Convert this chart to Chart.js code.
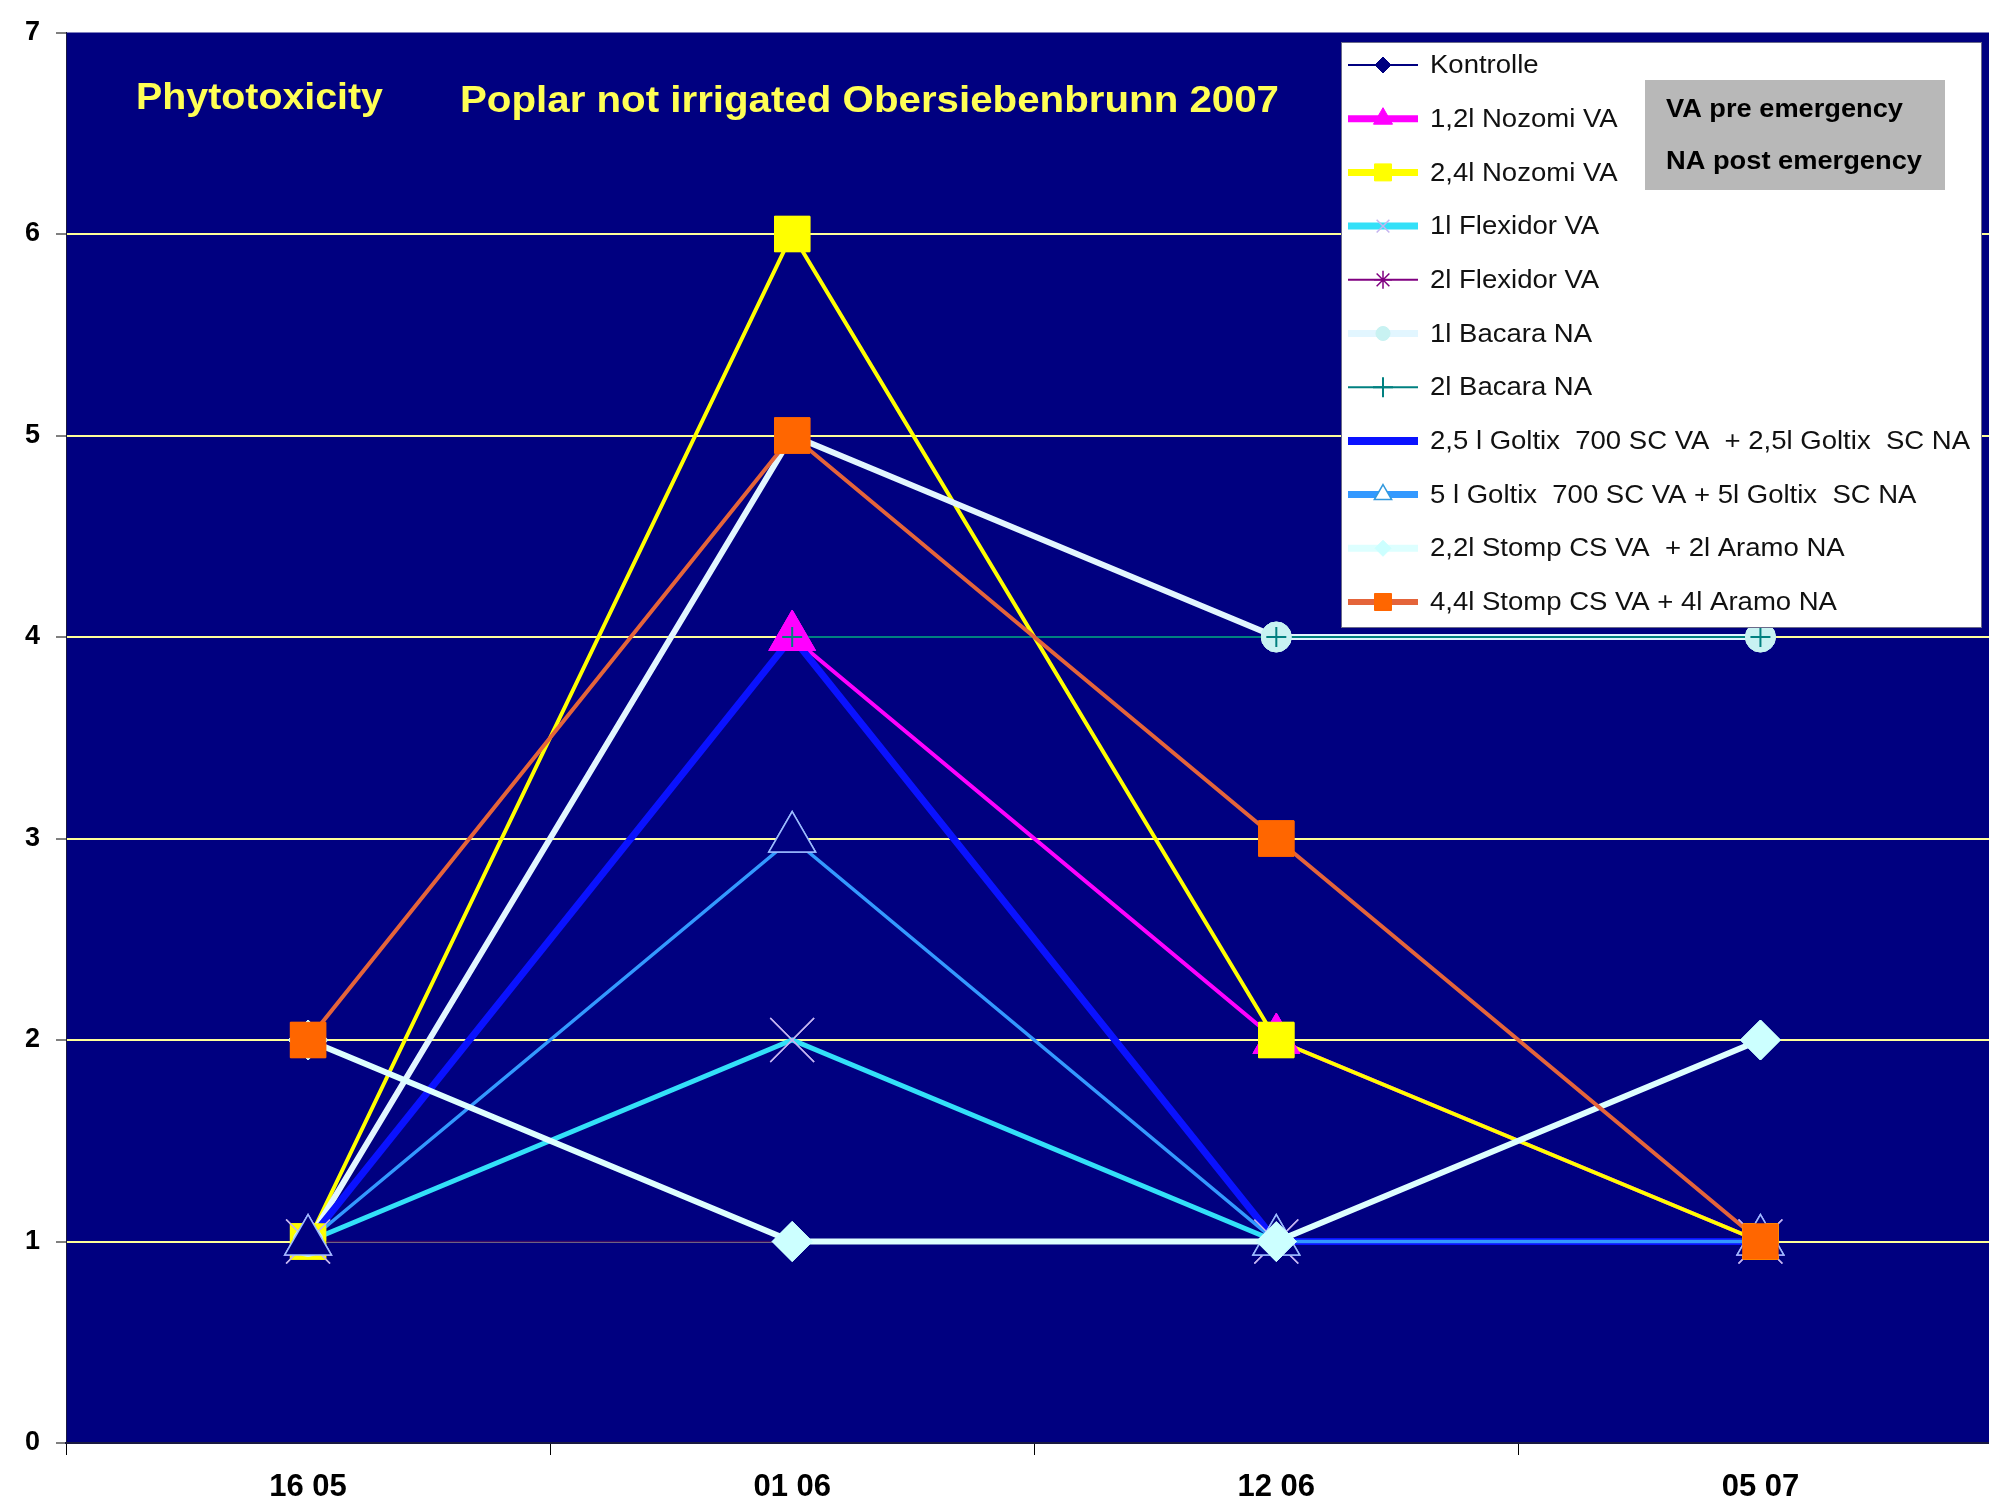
<!DOCTYPE html>
<html>
<head>
<meta charset="utf-8">
<script src="https://cdn.jsdelivr.net/npm/chart.js@4/dist/chart.umd.min.js"></script>
<style>
  html, body { margin: 0; padding: 0; background: #ffffff; overflow: hidden; }
  #wrap { position: absolute; left: 0; top: 0; width: 2200px; height: 1510px; }
  canvas { display: block; }
</style>
</head>
<body>
<div id="wrap">
<canvas id="phyto" width="2010" height="1510" style="width:2010px;height:1510px"></canvas>
</div>
<script>
// Sampling dates (day month)
const categories = ['16 05', '01 06', '12 06', '05 07'];

// Phytotoxicity scores per treatment
const kontrolle = [1, 1, 1, 1];
const nozomi12 = [1, 4, 2, 1];
const nozomi24 = [1, 6, 2, 1];
const flexidor1 = [1, 2, 1, 1];
const flexidor2 = [1, 1, 1, 1];
const bacara1 = [1, 5, 4, 4];
const bacara2 = [1, 4, 4, 4];
const goltix25 = [1, 4, 1, 1];
const goltix5 = [1, 3, 1, 1];
const stomp22 = [2, 1, 1, 2];
const stomp44 = [2, 5, 3, 1];

// Value axis ticks
const yTicks = [0, 1, 2, 3, 4, 5, 6, 7];

const seriesLabels = [
  'Kontrolle',
  '1,2l Nozomi VA',
  '2,4l Nozomi VA',
  '1l Flexidor VA',
  '2l Flexidor VA',
  '1l Bacara NA',
  '2l Bacara NA',
  '2,5 l Goltix  700 SC VA  + 2,5l Goltix  SC NA',
  '5 l Goltix  700 SC VA + 5l Goltix  SC NA',
  '2,2l Stomp CS VA  + 2l Aramo NA',
  '4,4l Stomp CS VA + 4l Aramo NA'
];

const titleLeft = 'Phytotoxicity';
const titleMain = 'Poplar not irrigated Obersiebenbrunn 2007';
const noteLines = ['VA pre emergency', 'NA post emergency'];

const NARROW = "'Liberation Sans Narrow', 'Liberation Sans', Arial, sans-serif";
const SANS = "'Liberation Sans', Arial, sans-serif";

// plot frame
const PLOT_LEFT = 66;
const PLOT_RIGHT = 2002;
const PLOT_TOP = 32;
const PLOT_BOTTOM = 1443;

function ds(label, data, s) {
  return Object.assign({
    label: label,
    data: data,
    tension: 0,
    fill: false,
    pointHoverRadius: s.pointRadius
  }, s);
}

function makeDatasets() {
  const list = [
    ds(seriesLabels[0], kontrolle, { borderColor: '#000080', borderWidth: 2, pointStyle: 'rectRot', pointRadius: 10,
      pointBackgroundColor: '#000080', pointBorderColor: '#000080', legendLine: 2, legendRadius: 8 }),
    ds(seriesLabels[1], nozomi12, { borderColor: '#ff00ff', borderWidth: 4, pointStyle: 'triangle', pointRadius: 27,
      pointBackgroundColor: '#ff00ff', pointBorderColor: '#ff00ff', pointBorderWidth: 1, legendLine: 7, legendRadius: 11 }),
    ds(seriesLabels[2], nozomi24, { borderColor: '#ffff00', borderWidth: 4, pointStyle: 'rect', pointRadius: 25,
      pointBackgroundColor: '#ffff00', pointBorderColor: '#ffff00', pointBorderWidth: 1, legendLine: 7, legendRadius: 12 }),
    ds(seriesLabels[3], flexidor1, { borderColor: '#33e0f8', borderWidth: 5, pointStyle: 'crossRot', pointRadius: 31,
      pointBackgroundColor: '#c4b4f0', pointBorderColor: '#c4b4f0', pointBorderWidth: 1.5, legendLine: 7, legendRadius: 9 }),
    ds(seriesLabels[4], flexidor2, { borderColor: '#3a0a66', borderWidth: 1.5, pointStyle: 'star', pointRadius: 12,
      pointBackgroundColor: '#6a1a80', pointBorderColor: '#6a1a80', pointBorderWidth: 1.5,
      legendLine: 2, legendRadius: 9, legendStroke: '#800080', legendColor: '#800080' }),
    ds(seriesLabels[5], bacara1, { borderColor: '#e2f6ff', borderWidth: 6, pointStyle: 'circle', pointRadius: 15,
      pointBackgroundColor: '#c8f2f2', pointBorderColor: '#c8f2f2', pointBorderWidth: 1, legendLine: 7, legendRadius: 7 }),
    ds(seriesLabels[6], bacara2, { borderColor: '#008080', borderWidth: 2, pointStyle: 'cross', pointRadius: 10,
      pointBackgroundColor: '#008080', pointBorderColor: '#008080', pointBorderWidth: 2, legendLine: 2, legendRadius: 10 }),
    ds(seriesLabels[7], goltix25, { borderColor: '#0a12ff', borderWidth: 7, pointStyle: 'circle', pointRadius: 0,
      pointBackgroundColor: '#0a12ff', pointBorderColor: '#0a12ff', legendLine: 8, legendRadius: 0 }),
    ds(seriesLabels[8], goltix5, { borderColor: '#3399ff', borderWidth: 3.5, pointStyle: 'triangle', pointRadius: 27,
      pointBackgroundColor: '#000080', pointBorderColor: '#9cbcff', pointBorderWidth: 1.5,
      legendLine: 7, legendRadius: 10, legendFill: '#ffffff', legendStroke: '#3399dd' }),
    ds(seriesLabels[9], stomp22, { borderColor: '#ddffff', borderWidth: 6, pointStyle: 'rectRot', pointRadius: 20,
      pointBackgroundColor: '#ccffff', pointBorderColor: '#ccffff', pointBorderWidth: 1, legendLine: 7, legendRadius: 8 }),
    ds(seriesLabels[10], stomp44, { borderColor: '#e4643a', borderWidth: 4, pointStyle: 'rect', pointRadius: 25,
      pointBackgroundColor: '#ff6600', pointBorderColor: '#ff6600', pointBorderWidth: 1, legendLine: 6, legendRadius: 12 })
  ];
  // later treatments are layered above earlier ones
  list.forEach((d, i) => { d.order = list.length - i; });
  return list;
}

function fitText(ctx, text, x, yMid, width, font, color) {
  ctx.save();
  ctx.font = font;
  const w = ctx.measureText(text).width;
  ctx.translate(x, yMid);
  ctx.scale(width / w, 1);
  ctx.textAlign = 'left';
  ctx.textBaseline = 'middle';
  ctx.fillStyle = color;
  ctx.fillText(text, 0, 0);
  ctx.restore();
}

function marker(ctx, style, r, x, y, fill, stroke, bw) {
  if (r <= 0) return;
  ctx.save();
  ctx.fillStyle = fill;
  ctx.strokeStyle = stroke;
  ctx.lineWidth = bw;
  if (Chart.helpers && Chart.helpers.drawPoint) {
    Chart.helpers.drawPoint(ctx, { pointStyle: style, radius: r, rotation: 0, borderWidth: bw }, x, y);
  }
  ctx.restore();
}

const plotBackground = {
  id: 'plotBackground',
  beforeDraw(chart) {
    const { ctx, chartArea: a } = chart;
    ctx.save();
    ctx.fillStyle = '#ffffff';
    ctx.fillRect(0, 0, chart.width, chart.height);
    ctx.fillStyle = '#000080';
    ctx.fillRect(a.left, a.top, a.right - a.left, a.bottom - a.top);
    ctx.restore();
  }
};

// markers sit above every line, in series order
const markersOnTop = {
  id: 'markersOnTop',
  afterDatasetsDraw(chart) {
    const ctx = chart.ctx;
    ctx.save();
    for (let i = 0; i < chart.data.datasets.length; i++) {
      const meta = chart.getDatasetMeta(i);
      meta.data.forEach(p => p.draw(ctx, chart.chartArea));
    }
    ctx.restore();
  }
};

const annotations = {
  id: 'annotations',
  afterDraw(chart) {
    const ctx = chart.ctx;
    // headings inside the plot
    fitText(ctx, titleLeft, 136, 99, 247, 'bold 37px ' + NARROW, '#ffff55');
    fitText(ctx, titleMain, 460, 102, 819, 'bold 37px ' + NARROW, '#ffff55');

    // legend box
    const L = { left: 1341, top: 42, right: 1982, bottom: 628 };
    ctx.save();
    ctx.fillStyle = '#ffffff';
    ctx.fillRect(L.left, L.top, L.right - L.left, L.bottom - L.top);
    ctx.strokeStyle = '#6a6a8a';
    ctx.lineWidth = 1;
    ctx.strokeRect(L.left + 0.5, L.top + 0.5, L.right - L.left - 1, L.bottom - L.top - 1);
    ctx.restore();

    const legendFont = '26px ' + SANS;
    ctx.font = legendFont;
    const longest = chart.data.datasets.reduce((m, d) => Math.max(m, ctx.measureText(d.label).width), 0);
    const sx = 540 / longest;
    chart.data.datasets.forEach((d, i) => {
      const y = 65 + i * 53.7;
      ctx.save();
      ctx.strokeStyle = d.legendColor || d.borderColor;
      ctx.lineWidth = d.legendLine;
      ctx.lineCap = 'butt';
      ctx.beginPath();
      ctx.moveTo(1348, y);
      ctx.lineTo(1418, y);
      ctx.stroke();
      ctx.restore();
      marker(ctx, d.pointStyle, d.legendRadius, 1383, y,
        d.legendFill || d.pointBackgroundColor, d.legendStroke || d.pointBorderColor, d.pointBorderWidth || 1);
      ctx.save();
      ctx.font = legendFont;
      ctx.translate(1430, y + 1);
      ctx.scale(sx, 1);
      ctx.fillStyle = '#111111';
      ctx.textBaseline = 'middle';
      ctx.fillText(d.label, 0, 0);
      ctx.restore();
    });

    // note box
    ctx.save();
    ctx.fillStyle = '#b8b8b8';
    ctx.fillRect(1645, 80, 300, 110);
    ctx.restore();
    fitText(ctx, noteLines[0], 1666, 110, 237, 'bold 26px ' + NARROW, '#000000');
    fitText(ctx, noteLines[1], 1666, 162, 256, 'bold 26px ' + NARROW, '#000000');
  }
};

function build(canvas, width) {
  canvas.width = width;
  canvas.height = 1510;
  canvas.style.width = width + 'px';
  canvas.style.height = '1510px';
  return new Chart(canvas, {
    type: 'line',
    data: { labels: categories, datasets: makeDatasets() },
    plugins: [plotBackground, markersOnTop, annotations],
    options: {
      responsive: false,
      animation: false,
      devicePixelRatio: 1,
      layout: { padding: { top: PLOT_TOP, right: 8, left: 0, bottom: 0 } },
      plugins: {
        legend: { display: false },
        tooltip: { enabled: false },
        title: { display: false }
      },
      scales: {
        x: {
          type: 'category',
          offset: true,
          afterFit(scale) { scale.height = 1510 - PLOT_BOTTOM; },
          grid: {
            offset: true,
            drawOnChartArea: false,
            drawTicks: true,
            tickLength: 12,
            color: '#000000',
            tickColor: '#000000',
            lineWidth: 1
          },
          border: { display: true, color: '#1a1a40', width: 2 },
          ticks: {
            color: '#000000',
            padding: 14,
            maxRotation: 0,
            font: { family: NARROW, weight: 'bold', size: 31 }
          }
        },
        y: {
          min: 0,
          max: 7,
          afterFit(scale) { scale.width = PLOT_LEFT; },
          afterBuildTicks(scale) { scale.ticks = yTicks.map(v => ({ value: v })); },
          grid: {
            color: (c) => (c.tick && c.tick.value > 0 && c.tick.value < 7) ? '#ffff99' : 'rgba(0,0,0,0)',
            lineWidth: 2,
            drawTicks: true,
            tickLength: 10,
            tickColor: '#000000',
            tickWidth: 1
          },
          border: { display: true, color: '#1a1a40', width: 1 },
          ticks: {
            color: '#000000',
            padding: 16,
            font: { family: NARROW, weight: 'bold', size: 27 }
          }
        }
      }
    }
  });
}

const canvas = document.getElementById('phyto');
let canvasWidth = 2010;
let chart = build(canvas, canvasWidth);
// widen the canvas until the plot frame reaches its right edge
for (let k = 0; k < 4; k++) {
  const diff = PLOT_RIGHT - chart.chartArea.right;
  if (Math.abs(diff) < 0.5) break;
  chart.destroy();
  canvasWidth += diff;
  chart = build(canvas, canvasWidth);
}
</script>
</body>
</html>
